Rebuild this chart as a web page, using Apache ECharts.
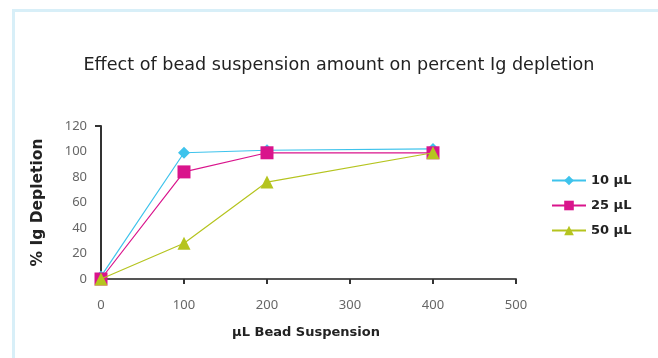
<!DOCTYPE html>
<html><head><meta charset="utf-8">
<script src="https://cdn.jsdelivr.net/npm/echarts@6/dist/echarts.min.js"></script>
<style>html,body{margin:0;padding:0;background:#fff}#c{width:658px;height:358px}</style>
</head><body><div id="c"></div>
<script>
const xValues = [0, 100, 200, 400];
const seriesNames = ['10 µL', '25 µL', '50 µL'];
const s10 = [2, 99, 101, 102];
const s25 = [0, 84, 99, 99];
const s50 = [0, 28, 76, 99];
const yTicks = [0, 20, 40, 60, 80, 100, 120];
const xTicks = [0, 100, 200, 300, 400, 500];

const colors = ['#3ec3ec', '#d9148c', '#b5c41f'];
const symbols = ['diamond', 'rect', 'triangle'];
const sizes = [12, 13, 13];
const allData = [s10, s25, s50];

const chart = echarts.init(document.getElementById('c'), null, {renderer: 'canvas'});
chart.setOption({
  animation: false,
  backgroundColor: '#fff',
  graphic: [{
    type: 'rect', left: 11, top: 8,
    shape: {width: 646, height: 360},
    style: {fill: 'none', stroke: '#d8eff8', lineWidth: 3}
  }],
  title: {
    text: 'Effect of bead suspension amount on percent Ig depletion',
    left: 334, top: 51, textAlign: 'center',
    textStyle: {fontFamily: 'DejaVu Sans', fontSize: 17.6, fontWeight: 'normal', color: '#222'}
  },
  legend: {
    orient: 'vertical', left: 546, top: 169, itemGap: 12,
    itemWidth: 34, itemHeight: 12,
    data: seriesNames,
    textStyle: {fontFamily: 'DejaVu Sans', fontSize: 13, fontWeight: 'bold', color: '#222'}
  },
  grid: {left: 101, right: 142, top: 126, bottom: 79, containLabel: false},
  xAxis: {
    type: 'value', min: 0, max: 500, interval: 100,
    name: 'µL Bead Suspension', nameLocation: 'middle', nameGap: 47,
    nameTextStyle: {fontFamily: 'DejaVu Sans', fontSize: 13, fontWeight: 'bold', color: '#222', padding: [0, 0, 0, -5]},
    axisLine: {lineStyle: {color: '#555', width: 2}},
    axisTick: {show: true, inside: false, length: 5, lineStyle: {color: '#333', width: 2}},
    axisLabel: {fontFamily: 'Noto Sans', fontSize: 13, color: '#666', margin: 20},
    splitLine: {show: false}
  },
  yAxis: {
    type: 'value', min: 0, max: 120, interval: 20,
    name: '% Ig Depletion', nameLocation: 'middle', nameGap: 55, nameRotate: 90,
    nameTextStyle: {fontFamily: 'DejaVu Sans', fontSize: 15.5, fontWeight: 'bold', color: '#222', padding: [0, 0, 0, 0]},
    axisLine: {show: true, lineStyle: {color: '#333', width: 2}},
    axisTick: {show: true, length: 6, customValues: [120], lineStyle: {color: '#333', width: 2}},
    axisLabel: {fontFamily: 'Noto Sans', fontSize: 13, color: '#666', margin: 14},
    splitLine: {show: false}
  },
  series: seriesNames.map((n, i) => ({
    name: n, type: 'line',
    data: xValues.map((x, j) => [x, allData[i][j]]),
    symbol: symbols[i], symbolSize: sizes[i],
    showAllSymbol: true,
    lineStyle: {color: colors[i], width: 1.2},
    itemStyle: {color: colors[i]},
    z: 2 + i
  }))
});
</script></body></html>
